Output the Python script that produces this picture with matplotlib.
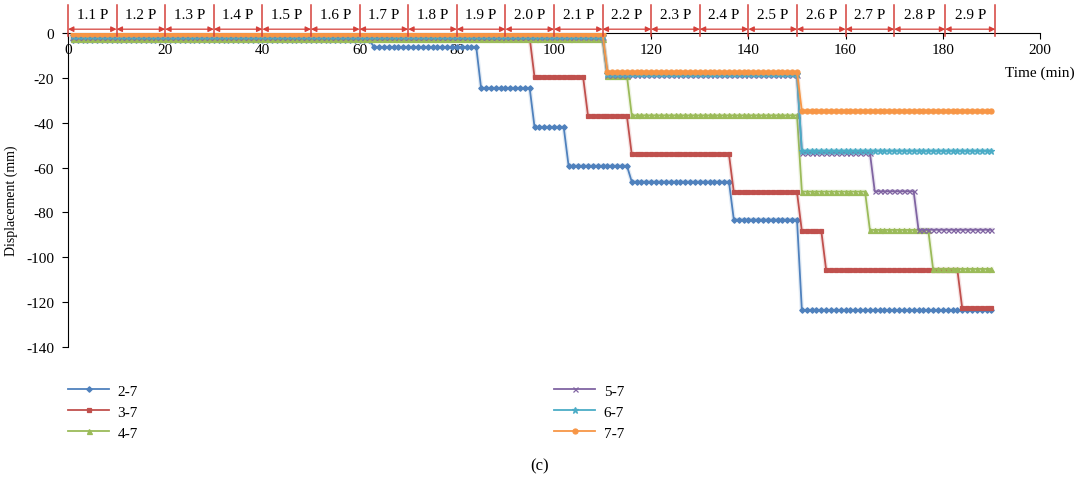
import numpy as np
import matplotlib
matplotlib.use("Agg")
import matplotlib.pyplot as plt

plt.rcParams['font.family'] = ['Liberation Serif', 'DejaVu Serif']

# ---------------- data ----------------
time = np.arange(1, 191)  # minutes

series_names = ['2-7', '3-7', '4-7', '5-7', '6-7', '7-7']

# each series is piecewise constant: level value starting at the given minute
s27_start = [1, 63, 85, 96, 103, 116, 137, 151]
s27_level = [-3.3, -6.2, -24.6, -42.0, -59.2, -66.3, -83.2, -123.5]

s37_start = [1, 96, 107, 116, 137, 151, 156, 184]
s37_level = [-2.2, -19.8, -37.0, -54.1, -71.0, -88.3, -105.7, -122.8]

s47_start = [1, 111, 116, 151, 165, 178]
s47_level = [-2.7, -19.0, -36.7, -70.7, -87.8, -105.2]

s57_start = [1, 111, 151, 166, 175]
s57_level = [-1.8, -18.9, -53.4, -70.6, -87.7]

s67_start = [1, 111, 151]
s67_level = [-1.2, -18.5, -52.4]

s77_start = [1, 111, 151]
s77_level = [-0.5, -17.4, -34.7]

stage_labels = ['1.1 P', '1.2 P', '1.3 P', '1.4 P', '1.5 P', '1.6 P', '1.7 P',
                '1.8 P', '1.9 P', '2.0 P', '2.1 P', '2.2 P', '2.3 P', '2.4 P',
                '2.5 P', '2.6 P', '2.7 P', '2.8 P', '2.9 P']
stage_bounds = [0, 10, 20, 30, 40, 50, 60, 70, 80, 90, 100, 110, 120, 130,
                140, 150, 160, 170, 180.5, 190.8]

x_ticks = [0, 20, 40, 60, 80, 100, 120, 140, 160, 180, 200]
y_ticks = [-140, -120, -100, -80, -60, -40, -20, 0]

# ---------------- style ----------------
colors = ['#4F81BD', '#C0504D', '#9BBB59', '#8064A2', '#4BACC6', '#F79646']
markers = ['D', 's', '^', 'x', '*', 'o']
msizes = [2.8, 3.2, 3.6, 3.6, 4.5, 3.6]
red = '#D5403A'


def expand(starts, levels):
    vals = np.empty(len(time))
    for s, lv in zip(starts, levels):
        vals[time >= s] = lv
    return vals


data = [expand(s27_start, s27_level), expand(s37_start, s37_level),
        expand(s47_start, s47_level), expand(s57_start, s57_level),
        expand(s67_start, s67_level), expand(s77_start, s77_level)]

W, H = 1078, 481
fig = plt.figure(figsize=(W / 100, H / 100), dpi=100)
ax = fig.add_axes([68 / W, 1 - 348 / H, (1040 - 68) / W, (348 - 34) / H])
ax.set_xlim(0, 200)
ax.set_ylim(-140, 0)

handles = []
for y, c, m, ms, name in zip(data, colors, markers, msizes, series_names):
    ax.plot(time, y, color=c, lw=3.2, alpha=0.15)
    h, = ax.plot(time, y, color=c, lw=1.3, marker=m, markersize=ms,
                 markeredgewidth=0.9, markerfacecolor=c, markeredgecolor=c,
                 label=name)
    handles.append(h)

for s in ['top', 'right']:
    ax.spines[s].set_visible(False)
ax.spines['bottom'].set_position(('data', 0))
ax.spines['bottom'].set_zorder(0.5)
ax.set_xticks(x_ticks)
ax.set_yticks(y_ticks)
ax.set_yticklabels([str(v) for v in y_ticks])
ax.tick_params(axis='both', direction='out', length=4, width=0.8, labelsize=11)
ax.tick_params(axis='x', pad=3.5)
ax.tick_params(axis='y', pad=6)

ax.set_ylabel('Displacement (mm)', fontsize=10)
ax.yaxis.set_label_coords(-0.051, 0.47)
ax.text(200, -17.4, 'Time (min)', ha='center', va='center', fontsize=11)

# load stage annotations above the axis
for b in stage_bounds:
    ax.plot([b, b], [-1.4, 12.5], color=red, lw=1.1, clip_on=False, zorder=5)
for i, lab in enumerate(stage_labels):
    b0, b1 = stage_bounds[i], stage_bounds[i + 1]
    ax.annotate('', xy=(b1, 1.7), xytext=(b0, 1.7), annotation_clip=False,
                arrowprops=dict(arrowstyle='<|-|>', color=red, lw=0.9,
                                mutation_scale=8, shrinkA=0, shrinkB=0))
    ax.text((b0 + b1) / 2, 8.3, lab, ha='center', va='center', fontsize=11)

# legend in two columns
leg_kw = dict(frameon=False, fontsize=11, handlelength=2.7, handletextpad=0.55,
              labelspacing=0.48, borderpad=0, borderaxespad=0, loc='upper left')
fig.legend(handles=handles[:3], bbox_to_anchor=(68 / W, 1 - 385 / H), **leg_kw)
fig.legend(handles=handles[3:], bbox_to_anchor=(554 / W, 1 - 385 / H), **leg_kw)

fig.text(540 / W, 1 - 466 / H, '(c)', ha='center', va='center', fontsize=12)

fig.savefig('out.png', dpi=100)
